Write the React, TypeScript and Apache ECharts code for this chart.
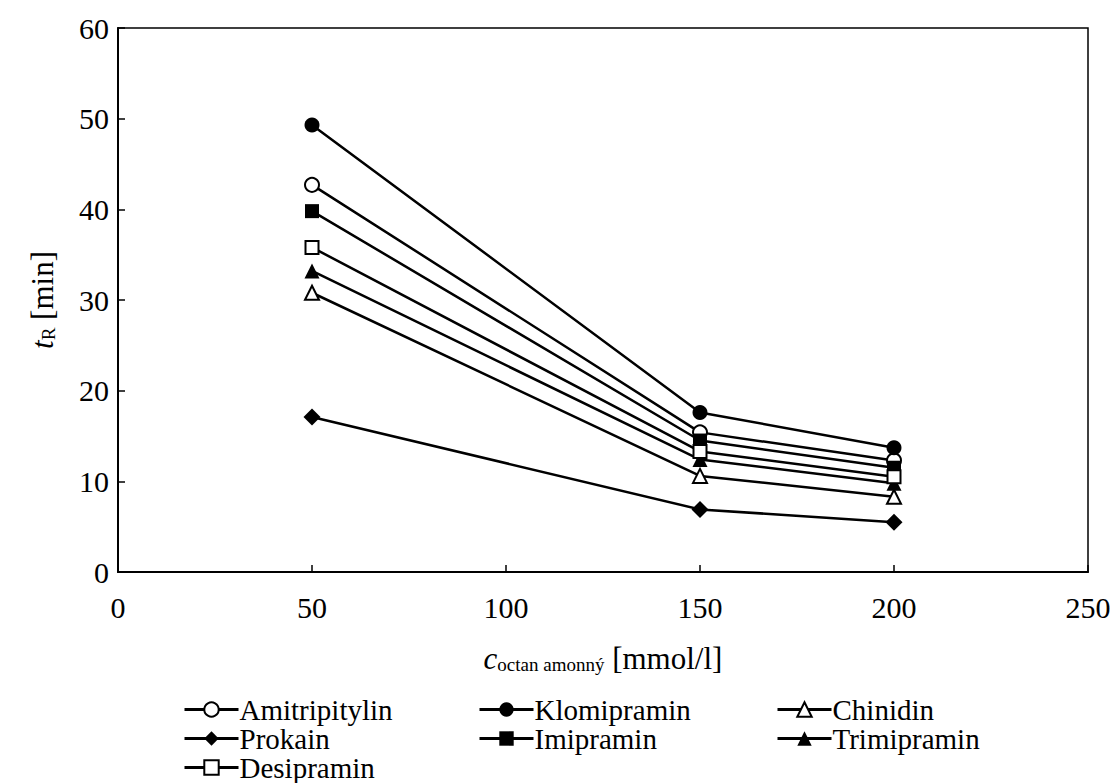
import React, { useEffect, useRef } from "react";
import * as echarts from "echarts";

// Ammonium acetate concentration [mmol/l]
const concentrations = [50, 150, 200];

// Retention times [min]
const amitripitylin = [42.7, 15.4, 12.3];
const klomipramin = [49.3, 17.6, 13.7];
const chinidin = [30.8, 10.6, 8.3];
const prokain = [17.1, 6.9, 5.5];
const imipramin = [39.8, 14.5, 11.5];
const trimipramin = [33.2, 12.4, 9.8];
const desipramin = [35.8, 13.3, 10.5];

const seriesDefs = [
  { name: "Amitripitylin", values: amitripitylin, symbol: "circle", filled: false, size: 14 },
  { name: "Klomipramin", values: klomipramin, symbol: "circle", filled: true, size: 15 },
  { name: "Chinidin", values: chinidin, symbol: "triangle", filled: false, size: 14 },
  { name: "Prokain", values: prokain, symbol: "diamond", filled: true, size: 17 },
  { name: "Imipramin", values: imipramin, symbol: "rect", filled: true, size: 14 },
  { name: "Trimipramin", values: trimipramin, symbol: "triangle", filled: true, size: 15 },
  { name: "Desipramin", values: desipramin, symbol: "rect", filled: false, size: 13 },
];

const legendColumns = [
  { left: 183, names: ["Amitripitylin", "Prokain", "Desipramin"] },
  { left: 478, names: ["Klomipramin", "Imipramin"] },
  { left: 776, names: ["Chinidin", "Trimipramin"] },
];

const FONT = "Liberation Serif";

export default function App() {
  const ref = useRef<HTMLDivElement>(null);

  useEffect(() => {
    document.body.style.margin = "0";
    if (!ref.current) return;
    const chart = echarts.init(ref.current, undefined, { renderer: "svg" });

    const series = seriesDefs.map((d) => ({
      name: d.name,
      type: "line",
      data: concentrations.map((c, i) => [c, d.values[i]]),
      symbol: d.symbol,
      symbolSize: d.size,
      lineStyle: { color: "#000", width: 2.5 },
      itemStyle: {
        color: d.filled ? "#000" : "#fff",
        borderColor: "#000",
        borderWidth: d.filled ? 0 : 2,
      },
      emphasis: { disabled: true },
    }));

    const legends = legendColumns.map((col) => ({
      orient: "vertical",
      left: col.left,
      top: 695,
      itemGap: 0,
      itemWidth: 54,
      itemHeight: 18,
      padding: 0,
      data: col.names,
      selectedMode: false,
      lineStyle: { width: 3, color: "#000" },
      textStyle: {
        fontFamily: FONT,
        fontSize: 29,
        color: "#000",
        lineHeight: 28,
        padding: [0, 0, 0, -4],
      },
    }));

    const richName = {
      i: { fontFamily: FONT, fontSize: 31, fontStyle: "italic", color: "#000", lineHeight: 36, verticalAlign: "bottom" },
      sub: { fontFamily: FONT, fontSize: 19, color: "#000", lineHeight: 28, verticalAlign: "bottom" },
      n: { fontFamily: FONT, fontSize: 31, color: "#000", lineHeight: 36, verticalAlign: "bottom" },
    };

    chart.setOption({
      animation: false,
      backgroundColor: "#fff",
      textStyle: { fontFamily: FONT },
      grid: {
        left: 118,
        right: 26,
        top: 28,
        bottom: 211,
        show: true,
        borderColor: "#000",
        borderWidth: 1.5,
      },
      legend: legends,
      xAxis: {
        type: "value",
        min: 0,
        max: 250,
        interval: 50,
        name: "{i|c}{sub|octan amonný}{n| [mmol/l]}",
        nameLocation: "middle",
        nameGap: 66,
        nameTextStyle: { fontFamily: FONT, rich: richName },
        axisLine: { lineStyle: { color: "#000", width: 2 } },
        axisTick: { inside: true, length: 7, lineStyle: { color: "#000", width: 1.5 } },
        axisLabel: { fontFamily: FONT, fontSize: 30, color: "#000", margin: 20 },
        splitLine: { show: false },
      },
      yAxis: {
        type: "value",
        min: 0,
        max: 60,
        interval: 10,
        name: "{i|t}{sub|R}{n| [min]}",
        nameLocation: "middle",
        nameGap: 60,
        nameRotate: 90,
        nameTextStyle: { fontFamily: FONT, rich: richName },
        axisLine: { lineStyle: { color: "#000", width: 2 } },
        axisTick: { inside: true, length: 7, lineStyle: { color: "#000", width: 1.5 } },
        axisLabel: { fontFamily: FONT, fontSize: 30, color: "#000", margin: 9 },
        splitLine: { show: false },
      },
      series,
    });

    return () => chart.dispose();
  }, []);

  return <div ref={ref} style={{ width: 1114, height: 783 }} />;
}
